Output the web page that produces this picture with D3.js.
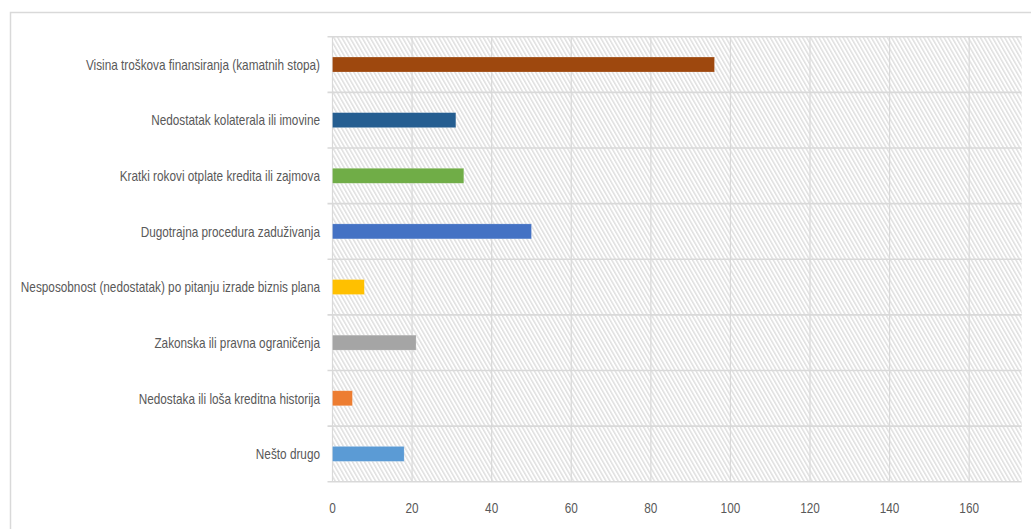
<!DOCTYPE html>
<html>
<head>
<meta charset="utf-8">
<script src="https://cdn.jsdelivr.net/npm/d3@7"></script>
<style>
html,body{margin:0;padding:0;background:#fff;}
svg{display:block;}
</style>
</head>
<body>
<svg id="chart" width="1031" height="529"></svg>
<script>
const categories = [
  "Visina troškova finansiranja (kamatnih stopa)",
  "Nedostatak kolaterala ili imovine",
  "Kratki rokovi otplate kredita ili zajmova",
  "Dugotrajna procedura zaduživanja",
  "Nesposobnost (nedostatak) po pitanju izrade biznis plana",
  "Zakonska ili pravna ograničenja",
  "Nedostaka ili loša kreditna historija",
  "Nešto drugo"
];
const values = [96, 31, 33, 50, 8, 21, 5, 18];
const colors = ["#9E480E", "#255E91", "#70AD47", "#4472C4", "#FFC000", "#A5A5A5", "#ED7D31", "#5B9BD5"];
const xTicks = [0, 20, 40, 60, 80, 100, 120, 140, 160];
const xMax = 173.2;

const svg = d3.select("#chart");
const font = "'Liberation Sans', Arial, sans-serif";
const squeeze = 0.785;

// outer chart border
svg.append("rect").attr("x", 10.5).attr("y", 12.5).attr("width", 1040).attr("height", 540)
  .attr("fill", "#fff").attr("stroke", "#d9d9d9").attr("stroke-width", 1.5);

const pLeft = 332.5, pRight = 1021.7, pTop = 36.7, pBottom = 481.7;

// hatch pattern
const defs = svg.append("defs");
const pat = defs.append("pattern").attr("id", "hatch").attr("patternUnits", "userSpaceOnUse")
  .attr("width", 3.5).attr("height", 10).attr("patternTransform", "rotate(-30)");
pat.append("line").attr("x1", 0.8).attr("y1", 0).attr("x2", 0.8).attr("y2", 10)
  .attr("stroke", "#cfcfcf").attr("stroke-width", 1);

const x = d3.scaleLinear().domain([0, xMax]).range([pLeft, pRight]);
const y = d3.scaleBand().domain(categories).range([pTop, pBottom]);

svg.append("rect").attr("x", pLeft).attr("y", pTop).attr("width", pRight - pLeft).attr("height", pBottom - pTop)
  .attr("fill", "url(#hatch)");

// vertical gridlines
svg.append("g").selectAll("line").data(xTicks).join("line")
  .attr("x1", d => x(d)).attr("x2", d => x(d)).attr("y1", pTop).attr("y2", pBottom)
  .attr("stroke", "#d9d9d9").attr("stroke-width", 1.2);

// horizontal category separators
const bounds = categories.map(c => y(c)).concat([pBottom]);
svg.append("g").selectAll("line").data(bounds).join("line")
  .attr("x1", pLeft - 5).attr("x2", pRight).attr("y1", d => d).attr("y2", d => d)
  .attr("stroke", "#d9d9d9").attr("stroke-width", 1.6);

// bars
const barH = 15;
svg.append("g").selectAll("rect").data(values).join("rect")
  .attr("x", x(0)).attr("y", (d, i) => y(categories[i]) + y.bandwidth() / 2 - barH / 2)
  .attr("width", d => x(d) - x(0)).attr("height", barH)
  .attr("fill", (d, i) => colors[i])
  .attr("stroke", "rgba(255,255,255,0.35)").attr("stroke-width", 0.6);

function narrow(sel) {
  sel.each(function () {
    const w = this.getComputedTextLength();
    d3.select(this).attr("textLength", w * squeeze).attr("lengthAdjust", "spacingAndGlyphs");
  });
}

// category labels
svg.append("g").selectAll("text").data(categories).join("text")
  .attr("x", 320).attr("y", d => y(d) + y.bandwidth() / 2)
  .attr("dy", "0.35em").attr("text-anchor", "end")
  .attr("font-family", font).attr("font-size", 15).attr("fill", "#595959")
  .text(d => d).call(narrow);

// x tick labels
svg.append("g").selectAll("text").data(xTicks).join("text")
  .attr("x", d => x(d)).attr("y", 508).attr("dy", "0.35em").attr("text-anchor", "middle")
  .attr("font-family", font).attr("font-size", 15).attr("fill", "#595959")
  .text(d => d).call(narrow);
</script>
</body>
</html>
